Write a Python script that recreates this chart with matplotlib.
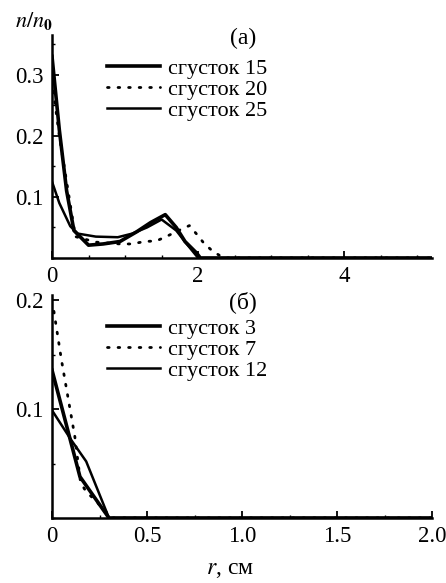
import matplotlib
matplotlib.use('Agg')
import matplotlib.pyplot as plt
from matplotlib.ticker import MultipleLocator

plt.rcParams['font.family'] = ['Liberation Serif', 'DejaVu Serif']
plt.rcParams['mathtext.fontset'] = 'stix'

# panel (а): density profiles, r in cm
r15 = [0.0, 0.1, 0.2, 0.3, 0.5, 0.7, 0.93, 1.16, 1.35, 1.55, 1.7, 1.82, 1.98, 2.03, 5.2]
n15 = [0.33, 0.21, 0.11, 0.045, 0.021, 0.023, 0.027, 0.043, 0.058, 0.071, 0.05, 0.027, 0.008, 0.0, 0.0]
r20 = [0.0, 0.1, 0.2, 0.32, 0.6, 0.93, 1.09, 1.27, 1.43, 1.58, 1.75, 1.88, 1.98, 2.08, 2.2, 2.35, 5.2]
n20 = [0.29, 0.2, 0.125, 0.035, 0.026, 0.023, 0.023, 0.027, 0.028, 0.036, 0.046, 0.053, 0.039, 0.024, 0.011, 0.0, 0.0]
r25 = [0.0, 0.1, 0.25, 0.35, 0.6, 0.9, 1.1, 1.3, 1.5, 1.7, 1.85, 2.0, 5.2]
n25 = [0.125, 0.09, 0.052, 0.04, 0.035, 0.034, 0.04, 0.05, 0.063, 0.045, 0.022, 0.0, 0.0]

# panel (б)
r3 = [0.0, 0.147, 0.3, 2.0]
n3 = [0.136, 0.038, 0.0, 0.0]
r7 = [0.01, 0.05, 0.1, 0.12, 0.15, 0.18, 0.23, 0.27, 0.32, 2.0]
n7 = [0.19, 0.145, 0.095, 0.075, 0.033, 0.024, 0.016, 0.008, 0.0, 0.0]
r12 = [0.0, 0.1, 0.18, 0.3, 2.0]
n12 = [0.099, 0.072, 0.052, 0.0, 0.0]

W, H = 446, 583
fig = plt.figure(figsize=(W / 100, H / 100), dpi=100)


def box(left, right, top, bottom):
    return [left / W, 1 - bottom / H, (right - left) / W, (bottom - top) / H]


ax1 = fig.add_axes(box(52, 432, 35, 258))
ax2 = fig.add_axes(box(52, 432, 295, 518))

dot = (0, (0.6, 3.2))


def style(ax):
    for s in ['top', 'right']:
        ax.spines[s].set_visible(False)
    for s in ['left', 'bottom']:
        ax.spines[s].set_linewidth(1.8)
    ax.tick_params(which='major', direction='in', length=5, width=1.3, labelsize=16.5, pad=6)
    ax.tick_params(which='minor', direction='in', length=2.5, width=1.0)


ax1.plot(r15, n15, color='black', lw=2.6, label='сгусток 15')
ax1.plot(r20, n20, color='black', lw=2.0, linestyle=dot, dash_capstyle='round', label='сгусток 20')
ax1.plot(r25, n25, color='black', lw=1.8, label='сгусток 25')
ax1.set_xlim(0, 5.2)
ax1.set_ylim(0, 0.365)
ax1.xaxis.set_minor_locator(MultipleLocator(0.5))
ax1.yaxis.set_minor_locator(MultipleLocator(0.05))
ax1.set_yticks([0.1, 0.2, 0.3])
ax1.set_yticklabels(['0.1', '0.2', '0.3'])
ax1.set_xticks([0, 2, 4])
ax1.set_xticklabels(['0', '2', '4'])
style(ax1)

ax2.plot(r3, n3, color='black', lw=2.6, label='сгусток 3')
ax2.plot(r7, n7, color='black', lw=2.0, linestyle=dot, dash_capstyle='round', label='сгусток 7')
ax2.plot(r12, n12, color='black', lw=1.8, label='сгусток 12')
ax2.set_xlim(0, 2.0)
ax2.set_ylim(0, 0.205)
ax2.xaxis.set_minor_locator(MultipleLocator(0.25))
ax2.yaxis.set_minor_locator(MultipleLocator(0.05))
ax2.set_xticks([0, 0.5, 1.0, 1.5, 2.0])
ax2.set_xticklabels(['0', '0.5', '1.0', '1.5', '2.0'])
ax2.set_yticks([0.1, 0.2])
ax2.set_yticklabels(['0.1', '0.2'])
style(ax2)

for ax, top in [(ax1, 58), (ax2, 318)]:
    ax.legend(loc='upper left', bbox_to_anchor=(107 / W, 1 - top / H),
              bbox_transform=fig.transFigure, frameon=False, fontsize=16,
              handlelength=2.4, handletextpad=0.36, labelspacing=0.03,
              borderpad=0, borderaxespad=0)

fig.text(243 / W, 1 - 38 / H, '(а)', fontsize=17, ha='center', va='center')
fig.text(243 / W, 1 - 302 / H, '(б)', fontsize=17, ha='center', va='center')
fig.text(34 / W, 1 - 22 / H, r'$\mathbf{\mathit{n/n}_0}$', fontsize=16, ha='center', va='center')
fig.text(230 / W, 1 - 570 / H, r'$\mathit{r}$, см', fontsize=17, ha='center', va='center')

fig.savefig('out.png', dpi=100)
